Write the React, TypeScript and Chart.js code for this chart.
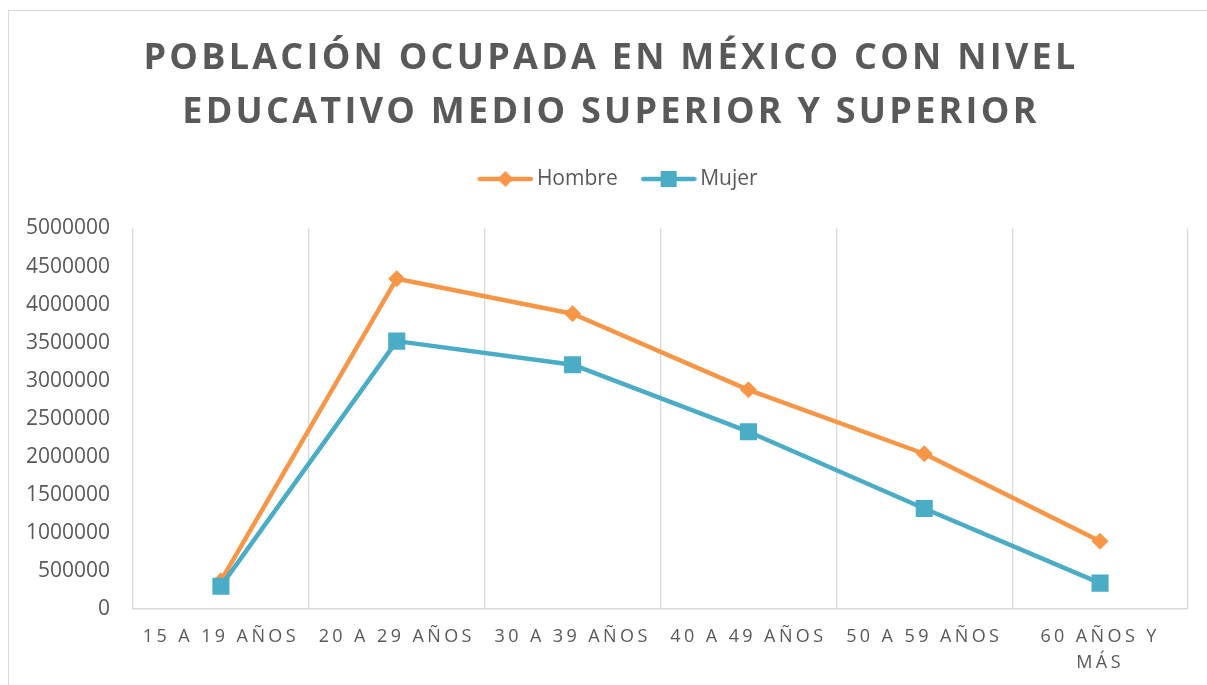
import React, { useEffect, useRef } from "react";
import { Chart, registerables, layouts } from "chart.js";

Chart.register(...registerables);

const titleLines = ["POBLACIÓN OCUPADA EN MÉXICO CON NIVEL", "EDUCATIVO MEDIO SUPERIOR Y SUPERIOR"];
const categories = ["15 A 19 AÑOS", "20 A 29 AÑOS", "30 A 39 AÑOS", "40 A 49 AÑOS", "50 A 59 AÑOS", "60 AÑOS Y MÁS"];
const categoryTickLabels: (string | string[])[] = [
  "15 A 19 AÑOS",
  "20 A 29 AÑOS",
  "30 A 39 AÑOS",
  "40 A 49 AÑOS",
  "50 A 59 AÑOS",
  ["60 AÑOS Y", "MÁS"],
];
const seriesNames = ["Hombre", "Mujer"];
const hombreValues = [370000, 4340000, 3880000, 2880000, 2040000, 890000];
const mujerValues = [300000, 3520000, 3210000, 2330000, 1320000, 340000];
const yMin = 0;
const yMax = 5000000;
const yStep = 500000;

const ORANGE = "#F79646";
const BLUE = "#4BACC6";
const TEXT = "#595959";
const GRID = "#D9D9D9";
const FONT = "'Open Sans', sans-serif";

function makeIcon(color: string, style: "diamond" | "square") {
  const c = document.createElement("canvas");
  c.width = 56;
  c.height = 20;
  const g = c.getContext("2d")!;
  g.strokeStyle = color;
  g.lineWidth = 4.5;
  g.lineCap = "round";
  g.beginPath();
  g.moveTo(2.5, 10);
  g.lineTo(53.5, 10);
  g.stroke();
  g.fillStyle = color;
  g.beginPath();
  if (style === "diamond") {
    g.moveTo(28 - 8, 10);
    g.lineTo(28, 2);
    g.lineTo(28 + 8, 10);
    g.lineTo(28, 18);
    g.closePath();
  } else {
    g.rect(28 - 8, 2, 16, 16);
  }
  g.fill();
  return c;
}

function patch(obj: any, method: string, spacing: string, ctx: any) {
  if (!obj || obj["__p_" + method]) return;
  const orig = obj[method];
  obj[method] = function (...a: any[]) {
    ctx.letterSpacing = spacing;
    const r = orig.apply(this, a);
    ctx.letterSpacing = "0px";
    return r;
  };
  obj["__p_" + method] = true;
}

const spacingPlugin = {
  id: "letterSpacingPatch",
  afterLayout(chart: any) {
    if (chart.legend) {
      chart.legend.left += 14;
      chart.legend.right += 14;
    }
    if (chart.titleBlock) {
      chart.titleBlock.left += 4;
      chart.titleBlock.right += 4;
    }
  },
  beforeDraw(chart: any) {
    const ctx = chart.ctx;
    ctx.letterSpacing = "0px";
    patch(chart.titleBlock, "draw", "3.25px", ctx);
    patch(chart.scales.x, "drawLabels", "3.4px", ctx);
  },
  afterDraw(chart: any) {
    chart.ctx.letterSpacing = "0px";
  },
};

const spacerPlugin = {
  id: "legendSpacer",
  beforeInit(chart: any) {
    const box: any = {
      position: "top",
      weight: 0,
      fullSize: true,
      options: {},
      left: 0,
      top: 0,
      right: 0,
      bottom: 0,
      width: 0,
      height: 0,
      isHorizontal() {
        return true;
      },
      update(maxWidth: number) {
        this.width = maxWidth;
        this.height = 29;
      },
      draw() {},
    };
    layouts.addBox(chart, box);
  },
};

export default function App() {
  const ref = useRef<HTMLCanvasElement | null>(null);
  useEffect(() => {
    if (!ref.current) return;
    const icons = [makeIcon(ORANGE, "diamond"), makeIcon(BLUE, "square")];
    const chart = new Chart(ref.current, {
      type: "line",
      data: {
        labels: categories,
        datasets: [
          {
            label: seriesNames[0],
            data: hombreValues,
            borderColor: ORANGE,
            backgroundColor: ORANGE,
            borderWidth: 4.5,
            pointStyle: "rectRot",
            pointRadius: 8,
            pointHoverRadius: 8,
            pointBorderWidth: 1,
            pointBackgroundColor: ORANGE,
            pointBorderColor: ORANGE,
            borderCapStyle: "round",
            borderJoinStyle: "round",
            tension: 0,
            order: 1,
          },
          {
            label: seriesNames[1],
            data: mujerValues,
            borderColor: BLUE,
            backgroundColor: BLUE,
            borderWidth: 4.5,
            pointStyle: "rect",
            pointRadius: 11,
            pointHoverRadius: 11,
            pointBorderWidth: 1.5,
            pointBackgroundColor: BLUE,
            pointBorderColor: BLUE,
            borderCapStyle: "round",
            borderJoinStyle: "round",
            tension: 0,
            order: 0,
          },
        ],
      },
      options: {
        responsive: false,
        animation: false,
        layout: { padding: { left: 17, right: 19, top: 0, bottom: -6 } },
        plugins: {
          title: {
            display: true,
            text: titleLines,
            color: TEXT,
            font: { family: FONT, size: 36, weight: "bold", lineHeight: 54 / 36 },
            padding: { top: 21, bottom: -1.5 },
          },
          legend: {
            display: true,
            position: "top",
            labels: {
              color: TEXT,
              font: { family: FONT, size: 21 },
              usePointStyle: true,
              pointStyleWidth: 42,
              padding: 30,
              generateLabels(chart: any) {
                const items = Chart.defaults.plugins.legend.labels.generateLabels(chart);
                items.sort((a: any, b: any) => a.datasetIndex - b.datasetIndex);
                items.forEach((it: any) => {
                  it.pointStyle = icons[it.datasetIndex];
                });
                return items;
              },
            },
          },
          tooltip: { enabled: false },
        },
        scales: {
          x: {
            offset: true,
            grid: { display: true, color: GRID, lineWidth: 1.3, offset: true, drawTicks: false },
            border: { display: true, color: GRID, width: 1.5 },
            ticks: {
              color: TEXT,
              font: { family: FONT, size: 18, lineHeight: 26 / 18 },
              padding: 15,
              autoSkip: false,
              maxRotation: 0,
              minRotation: 0,
              callback: (_v: any, i: number) => categoryTickLabels[i],
            },
          },
          y: {
            min: yMin,
            max: yMax,
            grid: { display: false, drawTicks: false },
            border: { display: false },
            afterFit(scale: any) {
              scale.width = 107;
            },
            ticks: {
              stepSize: yStep,
              color: TEXT,
              font: { family: FONT, size: 21 },
              padding: 23,
              callback: (v: any) => String(v),
            },
          },
        },
      },
      plugins: [spacingPlugin, spacerPlugin],
    } as any);
    return () => chart.destroy();
  }, []);

  return (
    <div
      style={{
        position: "fixed",
        left: 8,
        top: 10,
        width: 1230,
        height: 700,
        border: "1px solid #D9D9D9",
        background: "#fff",
      }}
    >
      <canvas ref={ref} width={1198} height={674} style={{ display: "block", width: 1198, height: 674 }} />
    </div>
  );
}
